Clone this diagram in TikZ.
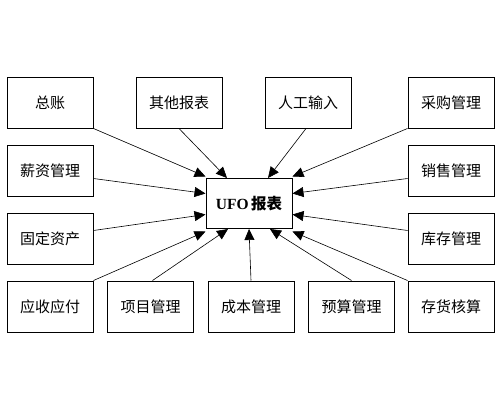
\documentclass[tikz,border=0pt]{standalone}
\usepackage{fontspec}
\setmainfont{Liberation Serif}
\newfontfamily\cjk{Noto Sans CJK SC}
\usetikzlibrary{arrows.meta, positioning}

\begin{document}
\begin{tikzpicture}[
  node distance=16pt and 14pt,
  box/.style={draw, line width=1pt, minimum width=86pt, minimum height=51pt, inner sep=0pt, font=\cjk\fontsize{15}{17}\selectfont},
  ufobox/.style={box, minimum height=50pt, font=\fontsize{15.5}{17}\selectfont\bfseries},
  feed/.style={-{Triangle[length=11pt,width=10pt]}, line width=0.6pt},
]
\useasboundingbox (0,0) rectangle (500pt,400pt);

\node[ufobox] (ufo) at (249pt,196.5pt) {UFO\,{\cjk 报表}};

% left column
\node[box] (zongzhang) at (50pt,297.5pt) {总账};
\node[box, below=of zongzhang] (xinzi) {薪资管理};
\node[box, below=of xinzi] (guding) {固定资产};
\node[box, below=of guding] (yingshou) {应收应付};

% top row
\node[box, right=42pt of zongzhang] (qita) {其他报表};
\node[box, right=42pt of qita] (rengong) {人工输入};
\node[box, right=56pt of rengong] (caigou) {采购管理};

% right column
\node[box, below=of caigou] (xiaoshou) {销售管理};
\node[box, below=of xiaoshou] (kucun) {库存管理};
\node[box, below=of kucun] (cunhuo) {存货核算};

% bottom row
\node[box, right=13.5pt of yingshou] (xiangmu) {项目管理};
\node[box, right=13.5pt of xiangmu] (chengben) {成本管理};
\node[box, right=13.5pt of chengben] (yusuan) {预算管理};

\draw[feed] (zongzhang.south east) -- ([yshift=27pt]ufo.west);
\draw[feed] ([yshift=-8pt]xinzi.east) -- ([yshift=10pt]ufo.west);
\draw[feed] ([yshift=8pt]guding.east) -- ([yshift=-11pt]ufo.west);
\draw[feed] (yingshou.north east) -- ([yshift=-28pt]ufo.west);

\draw[feed] (qita.south) -- ([xshift=-22pt]ufo.north);
\draw[feed] ([xshift=-2pt]rengong.south) -- ([xshift=19pt]ufo.north);

\draw[feed] (caigou.south west) -- ([yshift=27pt]ufo.east);
\draw[feed] ([yshift=-8pt]xiaoshou.west) -- ([yshift=10pt]ufo.east);
\draw[feed] ([yshift=8pt]kucun.west) -- ([yshift=-11pt]ufo.east);
\draw[feed] (cunhuo.north west) -- ([yshift=-28pt]ufo.east);

\draw[feed] ([xshift=2pt]xiangmu.north) -- ([xshift=-21pt]ufo.south);
\draw[feed] (chengben.north) -- (ufo.south);
\draw[feed] (yusuan.north) -- ([xshift=21pt]ufo.south);
\end{tikzpicture}
\end{document}
